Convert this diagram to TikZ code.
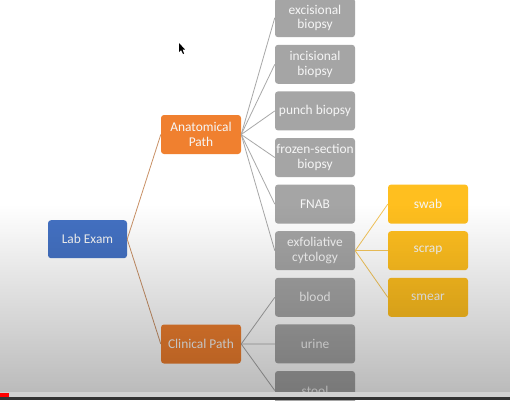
\documentclass[tikz,border=0pt]{standalone}
\usepackage{fontspec}
\setmainfont{Carlito}
\usetikzlibrary{fadings}
\definecolor{labblue}{HTML}{4472C4}
\definecolor{anaorange}{HTML}{F0802F}
\definecolor{boxgray}{HTML}{A5A5A5}
\definecolor{boxyellow}{HTML}{FFBF1F}
\definecolor{linkorange}{HTML}{C99166}
\definecolor{linkgray}{HTML}{A8A8A8}
\definecolor{linkyellow}{HTML}{F5C65A}
\definecolor{txt}{HTML}{F6F6F6}
\tikzset{
  box/.style={rounded corners=3pt, minimum width=80pt, minimum height=39pt,
    inner sep=1pt, align=center, text=txt, font=\fontsize{13.4}{14.5}\selectfont},
  bluebox/.style={box, fill=labblue, minimum width=79pt, minimum height=38pt},
  orangebox/.style={box, fill=anaorange},
  graybox/.style={box, fill=boxgray},
  yellowbox/.style={box, fill=boxyellow},
  lorange/.style={draw=linkorange, line width=0.8pt},
  lgray/.style={draw=linkgray, line width=0.8pt},
  lyellow/.style={draw=linkyellow, line width=0.8pt}
}
\begin{document}
\begin{tikzpicture}[x=1pt,y=-1pt]
\useasboundingbox (0,0) rectangle (510,400);
\fill[white] (0,0) rectangle (510,400);
% nodes
\node[bluebox] (lab) at (87.5,239.2) {Lab Exam};
\node[orangebox] (ana) at (201,134.5) {Anatomical\\Path};
\node[orangebox] (cli) at (201,344) {Clinical Path};
\node[graybox] (exc) at (315,17.7) {excisional\\biopsy};
\node[graybox] (inc) at (315,64.3) {incisional\\biopsy};
\node[graybox] (pun) at (315,110.9) {punch biopsy};
\node[graybox] (fro) at (315,157.5) {frozen-section\\biopsy};
\node[graybox] (fna) at (315,204.1) {FNAB};
\node[graybox] (exf) at (315,250.7) {exfoliative\\cytology};
\node[graybox] (blo) at (315,297.3) {blood};
\node[graybox] (uri) at (315,343.9) {urine};
\node[graybox] (sto) at (315,390.5) {stool};
\node[yellowbox] (swa) at (428,204.1) {swab};
\node[yellowbox] (scr) at (428,250.7) {scrap};
\node[yellowbox] (sme) at (428,297.3) {smear};
% connectors
\draw[lorange] (lab.east) -- (ana.west);
\draw[lorange] (lab.east) -- (cli.west);
\foreach \c in {exc,inc,pun,fro,fna,exf}
  \draw[lgray] (ana.east) -- (\c.west);
\foreach \c in {blo,uri,sto}
  \draw[lgray] (cli.east) -- (\c.west);
\foreach \c in {swa,scr,sme}
  \draw[lyellow] (exf.east) -- (\c.west);
% cursor
\fill[black] (179,43) -- (179,52) -- (181,50) -- (183,54) -- (184,53.5) -- (182.5,49.5) -- (185,49.5) -- cycle;
% darkening gradient of the screenshot
\fill[black, fill opacity=0.28, path fading=north] (0,205) rectangle (510,400);
% player bar
\fill[black!18] (0,392) rectangle (510,397);
\fill[red] (0,392.5) rectangle (9,397);
\fill[black!80] (0,397) rectangle (510,400);
\end{tikzpicture}
\end{document}
